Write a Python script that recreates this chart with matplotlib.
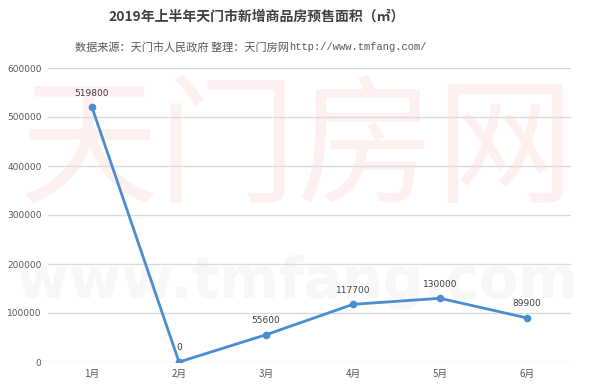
import matplotlib
matplotlib.use("Agg")
import matplotlib.pyplot as plt

plt.rcParams['font.family'] = ['Noto Sans CJK SC', 'DejaVu Sans']

months = ['1月', '2月', '3月', '4月', '5月', '6月']
area = [519800, 0, 55600, 117700, 130000, 89900]
yticks = [0, 100000, 200000, 300000, 400000, 500000, 600000]

title = '2019年上半年天门市新增商品房预售面积（㎡）'
subtitle_cn = '数据来源：天门市人民政府 整理：天门房网'
subtitle_url = 'http://www.tmfang.com/'
watermark_cn = '天门房网'
watermark_url = 'www.tmfang.com'

fig = plt.figure(figsize=(6.0, 3.87), dpi=100)
fig.patch.set_facecolor('white')

# faint watermarks (drawn beneath everything)
fig.text(0.495, 1-153/387, watermark_cn, fontsize=100, color='#fff0f0', ha='center', va='center',
         fontweight='normal', zorder=-5)
fig.text(0.495, 1-282/387, watermark_url, fontsize=41, color='#f8f6f6', ha='center', va='center',
         fontweight='bold', family='DejaVu Sans', zorder=-5)

ax = fig.add_axes([48.5/600, 1-362/387, 522/600, 294/387])
ax.set_facecolor('none')
ax.set_zorder(1)
x = list(range(len(months)))
ax.plot(x, area, color='#4a8dd0', lw=2, marker='o', ms=4.5, zorder=3)
for xi, v in zip(x, area):
    ax.annotate(f'{v}', (xi, v), xytext=(0, 7), textcoords='offset points',
                ha='center', va='bottom', fontsize=6.5, color='#404040',
                family='DejaVu Sans')
ax.set_xlim(-0.5, len(months) - 0.5)
ax.set_ylim(0, 600000)
ax.set_yticks(yticks)
ax.set_yticklabels([str(t) for t in yticks], fontsize=6.5, color='#595959', family='DejaVu Sans')
ax.set_xticks(x)
ax.set_xticklabels(months, fontsize=7, color='#595959')
ax.tick_params(length=0, pad=5)
ax.grid(axis='y', color='#dcdcdc', lw=1)
ax.set_axisbelow(True)
for s in ax.spines.values():
    s.set_visible(False)

fig.text(257/600, 1-17/387, title, fontsize=10, fontweight='bold', color='#404040',
         ha='center', va='center')
t1 = fig.text(75/600, 1-47/387, subtitle_cn, fontsize=8, color='#595959',
              ha='left', va='center')
fig.canvas.draw()
bb = t1.get_window_extent()
fig.text(bb.x1/600, 1-47/387, subtitle_url, fontsize=7.5, color='#595959',
         ha='left', va='center', family='Liberation Mono')

fig.savefig('out.png', dpi=100)
